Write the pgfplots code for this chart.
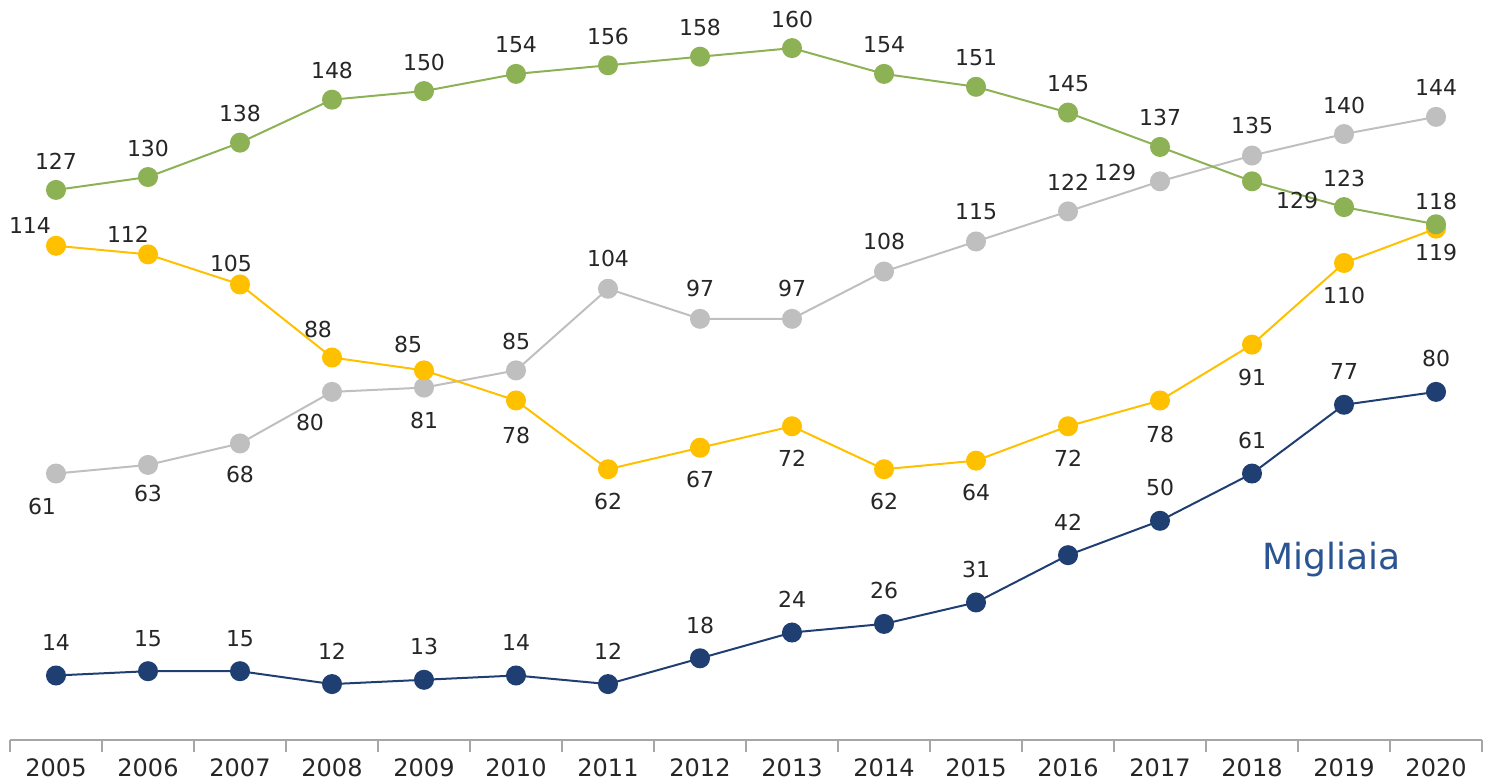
\documentclass[border=0pt]{standalone}
\usepackage{fontspec}
\setmainfont{DejaVu Sans}
\usepackage{pgfplots}
\pgfplotsset{compat=1.18}
\definecolor{cGreen}{HTML}{8DB255}
\definecolor{cGray}{HTML}{BFBFBF}
\definecolor{cYellow}{HTML}{FFC000}
\definecolor{cNavy}{HTML}{1F3F73}
\definecolor{cBlue}{HTML}{2A5592}
\definecolor{cAxis}{HTML}{A6A6A6}

% x = year index, y = value, dx/dy = label offset in pt
\pgfplotstableread{
x y dx dy
0 127 0 14.5
1 130 0 14.5
2 138 0 14.5
3 148 0 14.5
4 150 0 14.5
5 154 0 14.5
6 156 0 14.5
7 158 0 14.5
8 160 0 14.5
9 154 0 14.5
10 151 0 14.5
11 145 0 14.5
12 137 0 14.5
13 129 22.5 -9.5
14 123 0 14.5
15 119 0 -14
}\green
\pgfplotstableread{
x y dx dy
0 61 -7 -16.5
1 63 0 -14.5
2 68 0 -15.5
3 80 -11 -15.5
4 81 0 -16.5
5 85 0 14.5
6 104 0 15
7 97 0 15
8 97 0 15
9 108 0 15
10 115 0 15
11 122 0 14.5
12 129 -22.5 4.5
13 135 0 15
14 140 0 14.5
15 144 0 14.5
}\gray
\pgfplotstableread{
x y dx dy
0 114 -13 10
1 112 -10 10
2 105 -4.5 10.5
3 88 -7 14
4 85 -8 13
5 78 0 -17.5
6 62 0 -16
7 67 0 -16
8 72 0 -16
9 62 0 -16
10 64 0 -16
11 72 0 -16
12 78 0 -17
13 91 0 -16.5
14 110 0 -16.5
15 118 0 13.5
}\yellow
\pgfplotstableread{
x y dx dy
0 14 0 16.5
1 15 0 16.5
2 15 0 16.5
3 12 0 16.5
4 13 0 16.5
5 14 0 16.5
6 12 0 16.5
7 18 0 16.5
8 24 0 16.5
9 26 0 16.5
10 31 0 16.5
11 42 0 16.5
12 50 0 16.5
13 61 0 16.5
14 77 0 16.5
15 80 0 16.5
}\navy

\begin{document}
\begin{tikzpicture}
\begin{axis}[
    scale only axis,
    x=46pt, y=2.1485pt,
    xmin=-0.5, xmax=15.5,
    ymin=-1, ymax=171.2,
    axis x line=bottom,
    axis y line=none,
    axis line style={cAxis, line width=0.8pt, -},
    xtick={0,...,15},
    xticklabels={2005,2006,2007,2008,2009,2010,2011,2012,2013,2014,2015,2016,2017,2018,2019,2020},
    major tick length=0pt,
    minor xtick={-0.5,0.5,...,15.5},
    minor tick length=6pt,
    tick align=outside,
    minor tick style={cAxis, line width=0.8pt},
    xticklabel style={font=\fontsize{12}{14}\selectfont, text=black!85, yshift=-6pt},
    ytick=\empty,
    clip=false,
    /pgf/number format/assume math mode=true,
    nodes near coords,
    every node near coord/.style={font=\fontsize{11}{13}\selectfont, text=black!85, inner sep=0pt, anchor=center},
    visualization depends on={\thisrow{dx} \as \dx},
    visualization depends on={\thisrow{dy} \as \dy},
    nodes near coords style={xshift=\dx pt, yshift=\dy pt},
    every axis plot/.append style={line width=1pt, mark=*, mark size=4.5pt},
]
\addplot[cGray, mark options={fill=cGray, draw=cGray}] table {\gray};
\addplot[cYellow, mark options={fill=cYellow, draw=cYellow}] table {\yellow};
\addplot[cGreen, mark options={fill=cGreen, draw=cGreen}] table {\green};
\addplot[cNavy, mark options={fill=cNavy, draw=cNavy}] table {\navy};
\node[text=cBlue, font=\fontsize{18}{21}\selectfont] at (axis cs:13.86,40.9) {Migliaia};
\end{axis}
\pgfresetboundingbox
\path[use as bounding box] ([xshift=-5pt,yshift=-21pt]current axis.south west) rectangle ([xshift=5pt]current axis.north east);
\end{tikzpicture}
\end{document}
